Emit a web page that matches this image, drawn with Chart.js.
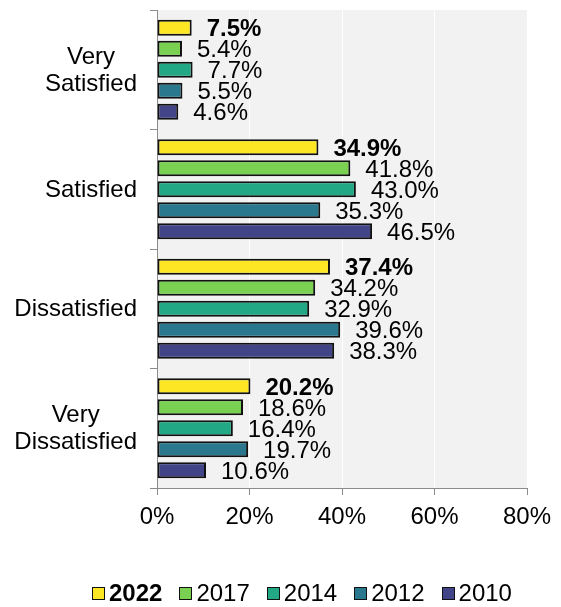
<!DOCTYPE html>
<html>
<head>
<meta charset="utf-8">
<script src="https://cdn.jsdelivr.net/npm/chart.js@4/dist/chart.umd.min.js"></script>
<style>
  html, body { margin:0; padding:0; background:#fff; }
  #wrap { position:relative; width:561px; height:607px; }
  #legend { position:absolute; left:92px; top:579px; display:flex; align-items:center;
    font-family:'Liberation Sans', Arial, sans-serif; font-size:24px; color:#000; line-height:28px; }
  .item { display:flex; align-items:center; margin-right:17px; }
  .box { width:13px; height:13px; box-sizing:border-box; border:1.6px solid #111; margin-right:4px; }
</style>
</head>
<body>
<div id="wrap">
  <canvas id="c" width="561" height="607"></canvas>
  <div id="legend"></div>
</div>
<script>
const categories = [["Very","Satisfied"], ["Satisfied"], ["Dissatisfied"], ["Very","Dissatisfied"]];
const seriesNames = ["2022", "2017", "2014", "2012", "2010"];
const seriesColors = ["#fde725", "#7ad151", "#22a884", "#2a788e", "#414487"];
const values2022 = [7.5, 34.9, 37.4, 20.2];
const values2017 = [5.4, 41.8, 34.2, 18.6];
const values2014 = [7.7, 43.0, 32.9, 16.4];
const values2012 = [5.5, 35.3, 39.6, 19.7];
const values2010 = [4.6, 46.5, 38.3, 10.6];
const xTicks = [0, 20, 40, 60, 80];

const FONT = "'Liberation Sans', Arial, sans-serif";
const allValues = [values2022, values2017, values2014, values2012, values2010];

const datasets = seriesNames.map((n, i) => ({
  label: n,
  data: allValues[i],
  backgroundColor: seriesColors[i],
  borderColor: '#111111',
  borderWidth: 2,
  borderSkipped: false,
  categoryPercentage: 0.88,
  barPercentage: 0.76
}));

const bgPlugin = {
  id: 'bg',
  beforeDraw(chart) {
    const {ctx, chartArea: a} = chart;
    ctx.save();
    ctx.fillStyle = '#f2f2f2';
    ctx.fillRect(a.left, a.top, a.right - a.left, a.bottom - a.top);
    ctx.restore();
  }
};

const labelPlugin = {
  id: 'labels',
  afterDatasetsDraw(chart) {
    const ctx = chart.ctx;
    ctx.save();
    ctx.fillStyle = '#000';
    ctx.textAlign = 'left';
    ctx.textBaseline = 'middle';
    chart.data.datasets.forEach((ds, di) => {
      const meta = chart.getDatasetMeta(di);
      ctx.font = (di === 0 ? 'bold ' : '') + '24px ' + FONT;
      meta.data.forEach((el, i) => {
        ctx.fillText(ds.data[i].toFixed(1) + '%', el.x + 15, el.y + 2);
      });
    });
    // category labels: block right-aligned, lines centered
    const ys = chart.scales.y;
    ctx.font = '24px ' + FONT;
    ctx.textAlign = 'center';
    const right = 137, lh = 27;
    categories.forEach((lines, i) => {
      const w = Math.max(...lines.map(l => ctx.measureText(l).width));
      const cx = right - w / 2;
      const cy = ys.getPixelForValue(i);
      const start = cy - (lines.length - 1) * lh / 2 + 1;
      lines.forEach((l, k) => ctx.fillText(l, cx, start + k * lh));
    });
    ctx.restore();
  }
};

new Chart(document.getElementById('c'), {
  type: 'bar',
  data: { labels: categories.map(c => c.join(' ')), datasets },
  options: {
    indexAxis: 'y',
    responsive: false,
    animation: false,
    layout: { padding: { top: 10, right: 34, bottom: 74, left: 0 } },
    plugins: { legend: { display: false }, tooltip: { enabled: false } },
    scales: {
      x: {
        min: 0, max: 80,
        afterBuildTicks(s) { s.ticks = xTicks.map(v => ({ value: v })); },
        afterFit(s) { s.height = 45; },
        ticks: { callback: v => v + '%', color: '#000', font: { family: FONT, size: 24 }, padding: 8 },
        grid: { color: '#ffffff', lineWidth: 1, tickColor: '#8c8c8c', tickLength: 7 },
        border: { color: '#8c8c8c', width: 1 }
      },
      y: {
        afterFit(s) { s.width = 157; },
        ticks: { display: false },
        grid: { drawOnChartArea: false, drawTicks: true, tickColor: '#8c8c8c', tickLength: 7, offset: true },
        border: { color: '#8c8c8c', width: 1 }
      }
    }
  },
  plugins: [bgPlugin, labelPlugin]
});

const lg = document.getElementById('legend');
seriesNames.forEach((n, i) => {
  const it = document.createElement('div');
  it.className = 'item';
  const b = document.createElement('span');
  b.className = 'box';
  b.style.background = seriesColors[i];
  const t = document.createElement('span');
  t.textContent = n;
  if (i === 0) t.style.fontWeight = 'bold';
  it.appendChild(b); it.appendChild(t);
  lg.appendChild(it);
});
</script>
</body>
</html>
